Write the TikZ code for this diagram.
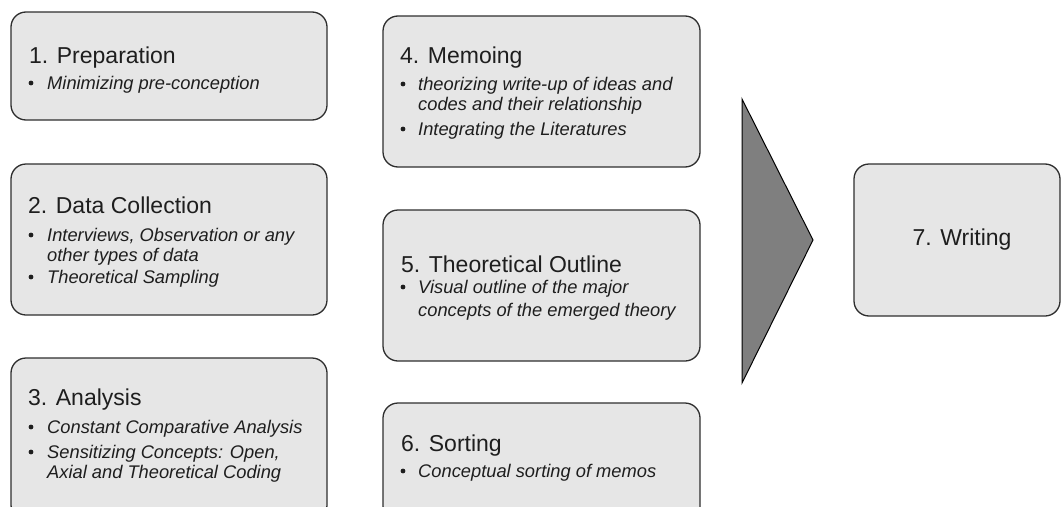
\documentclass[tikz,border=0pt]{standalone}
\usepackage{fontspec}
\setmainfont{Liberation Sans}
\definecolor{boxfill}{HTML}{E6E6E6}
\definecolor{boxline}{HTML}{2E2E2E}
\definecolor{ink}{HTML}{1E1E1E}
\definecolor{arrowfill}{HTML}{7F7F7F}
\begin{document}
\begin{tikzpicture}[x=1pt,y=-1pt,
  stagebox/.style={draw=boxline,fill=boxfill,line width=1.3pt,rounded corners=15pt,
    inner sep=0pt},
  title/.style={anchor=base west,inner sep=0pt,text=ink,font=\fontsize{23}{27}\selectfont},
  item/.style={anchor=base west,inner sep=0pt,text=ink,font=\fontsize{18.3}{20.5}\selectfont\itshape},
  dot/.style={circle,fill=ink,inner sep=0pt,minimum size=4.8pt}]
\useasboundingbox (0,0) rectangle (1062,506);
\clip (0,0) rectangle (1062,506);

% stage boxes
\node[stagebox,minimum width=316pt,minimum height=108pt] (s1) at (169,66) {};
\node[stagebox,minimum width=316pt,minimum height=151pt] (s2) at (169,239.5) {};
\node[stagebox,minimum width=316pt,minimum height=162pt] (s3) at (169,439) {};
\node[stagebox,minimum width=317pt,minimum height=151pt] (s4) at (541.5,91.5) {};
\node[stagebox,minimum width=317pt,minimum height=151pt] (s5) at (541.5,285.5) {};
\node[stagebox,minimum width=317pt,minimum height=118pt] (s6) at (541.5,462) {};
\node[stagebox,minimum width=206pt,minimum height=152pt] (s7) at (957,240) {};

% large pointer between the columns and the final stage
\draw[draw=black,fill=arrowfill,line width=1pt,line join=miter]
  (742,99) -- (813,240) -- (742,383) -- cycle;

% 1. Preparation
\node[title] (t1) at (29,63) {1. Preparation};
\node[dot] (d1a) at (31,83) {};
\node[item] (i1a) at (47,89) {Minimizing pre-conception};

% 2. Data Collection
\node[title] (t2) at (28,213) {2. Data Collection};
\node[dot] (d2a) at (31,235) {};
\node[item] (i2a) at (47,241) {\parbox[t]{275pt}{Interviews, Observation or any\\other types of data}};
\node[dot] (d2b) at (31,277) {};
\node[item] (i2b) at (47,283) {Theoretical Sampling};

% 3. Analysis
\node[title] (t3) at (28,405) {3. Analysis};
\node[dot] (d3a) at (31,427) {};
\node[item] (i3a) at (47,433) {Constant Comparative Analysis};
\node[dot] (d3b) at (31,452) {};
\node[item] (i3b) at (47,458) {\parbox[t]{275pt}{Sensitizing Concepts: Open,\\Axial and Theoretical Coding}};

% 4. Memoing
\node[title] (t4) at (400,63) {4. Memoing};
\node[dot] (d4a) at (403,84) {};
\node[item] (i4a) at (418,90) {\parbox[t]{280pt}{theorizing write-up of ideas and\\codes and their relationship}};
\node[dot] (d4b) at (403,129) {};
\node[item] (i4b) at (418,135) {Integrating the Literatures};

% 5. Theoretical Outline
\node[title] (t5) at (401,272) {5. Theoretical Outline};
\node[dot] (d5a) at (403,287) {};
\node[item] (i5a) at (418,293) {\parbox[t]{280pt}{\fontsize{18.3}{23}\selectfont Visual outline of the major\\concepts of the emerged theory}};

% 6. Sorting
\node[title] (t6) at (401,451) {6. Sorting};
\node[dot] (d6a) at (403,471) {};
\node[item] (i6a) at (418,477) {Conceptual sorting of memos};

% 7. Writing
\node[text=ink,font=\fontsize{23}{27}\selectfont] (t7) at ([xshift=5pt]s7.center) {7. Writing};
\end{tikzpicture}
\end{document}
